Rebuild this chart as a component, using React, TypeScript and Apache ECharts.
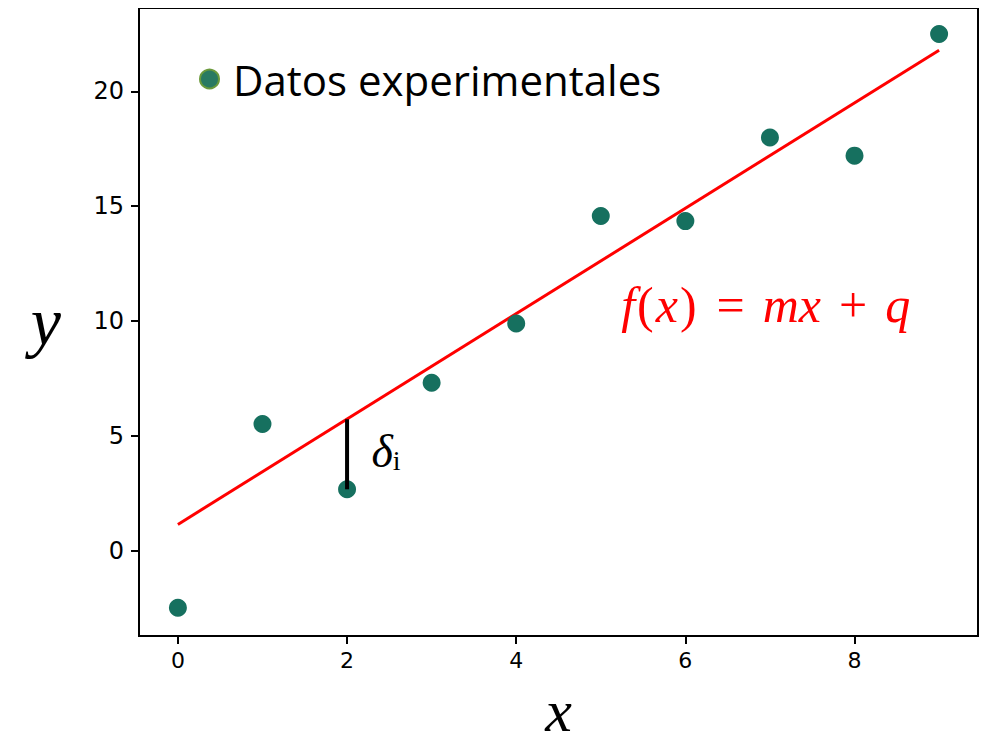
import React, { useEffect, useRef } from "react";
import * as echarts from "echarts";

const xValues = [0, 1, 2, 3, 4, 5, 6, 7, 8, 9];
const yValues = [-2.49, 5.51, 2.67, 7.31, 9.89, 14.57, 14.35, 17.99, 17.2, 22.5];
const fitLine = [[0, 1.14], [9, 21.79]];
const deltaSegment = [[2, 5.72], [2, 2.67]];
const xTicks = [0, 2, 4, 6, 8];
const yTicks = [0, 5, 10, 15, 20];
const legendName = "Datos experimentales";

export default function App() {
  const ref = useRef<HTMLDivElement>(null);
  useEffect(() => {
    const chart = echarts.init(ref.current!, null, { renderer: "svg" });
    const mathFont = "'Liberation Serif', 'DejaVu Serif', serif";
    chart.setOption({
      animation: false,
      backgroundColor: "#ffffff",
      grid: {
        left: 139,
        top: 8,
        right: 9,
        bottom: 109,
        outerBoundsMode: "none",
        containLabel: false,
        show: true,
        borderColor: "#000",
        borderWidth: 2,
        backgroundColor: "transparent",
      },
      legend: {
        show: true,
        left: 194,
        top: 53,
        icon: "circle",
        itemWidth: 19,
        itemHeight: 19,
        data: [
          {
            name: legendName,
            itemStyle: { color: "#2a7a62", borderColor: "#6b9a3c", borderWidth: 2 },
          },
        ],
        textStyle: { fontSize: 42, color: "#000", fontFamily: "'Open Sans', sans-serif", padding: [0, 0, 0, 9] },
      },
      xAxis: {
        type: "value",
        min: -0.46,
        max: 9.46,
        name: "x",
        nameLocation: "middle",
        nameGap: 55,
        nameTextStyle: { fontSize: 60, lineHeight: 40, fontStyle: "italic", fontFamily: mathFont, color: "#000" },
        splitLine: { show: false },
        axisLine: { show: true, onZero: false, lineStyle: { color: "#000", width: 2 } },
        axisTick: { show: true, length: 8, customValues: xTicks, lineStyle: { color: "#000", width: 2 } },
        axisLabel: { customValues: xTicks, fontSize: 22, color: "#000", margin: 13, fontFamily: "'DejaVu Sans', sans-serif" },
      },
      yAxis: {
        type: "value",
        min: -3.72,
        max: 23.63,
        name: "y",
        nameLocation: "middle",
        nameRotate: 0,
        nameGap: 78,
        nameTextStyle: { fontSize: 68, fontStyle: "italic", fontFamily: mathFont, color: "#000", padding: [0, 0, 6, 0] },
        splitLine: { show: false },
        axisLine: { show: true, onZero: false, lineStyle: { color: "#000", width: 2 } },
        axisTick: { show: true, length: 8, customValues: yTicks, lineStyle: { color: "#000", width: 2 } },
        axisLabel: { customValues: yTicks, fontSize: 24, color: "#000", margin: 15, fontFamily: "'DejaVu Sans', sans-serif" },
      },
      series: [
        {
          type: "line",
          name: "fit",
          data: fitLine,
          symbol: "none",
          lineStyle: { color: "#ff0000", width: 3 },
          z: 2,
        },
        {
          type: "scatter",
          name: legendName,
          data: xValues.map((x, i) => [x, yValues[i]]),
          symbolSize: 18,
          itemStyle: { color: "#16705f", opacity: 1 },
          z: 3,
        },
        {
          type: "line",
          name: "delta",
          data: deltaSegment,
          symbol: "none",
          lineStyle: { color: "#000", width: 4 },
          z: 4,
          markPoint: {
            symbol: "circle",
            symbolSize: 0,
            data: [
              {
                coord: [2.46, 4.3],
                label: {
                  show: true,
                  formatter: "{d|δ}{i|i}",
                  rich: {
                    d: { fontSize: 46, fontStyle: "italic", fontFamily: mathFont, color: "#000" },
                    i: { fontSize: 28, fontFamily: mathFont, color: "#000", verticalAlign: "bottom", padding: [16, 0, 0, 0] },
                  },
                },
              },
              {
                coord: [6.95, 10.7],
                label: {
                  show: true,
                  formatter: "{it|f}{n|(}{it|x}{n|)}{op|=}{it|mx}{op|+}{it|q}",
                  rich: {
                    it: { fontSize: 50, fontStyle: "italic", fontFamily: mathFont, color: "#ff0000" },
                    n: { fontSize: 50, fontFamily: mathFont, color: "#ff0000", padding: [0, 2, 0, 2] },
                    op: { fontSize: 50, fontFamily: mathFont, color: "#ff0000", padding: [0, 18, 0, 18] },
                  },
                },
              },
            ],
          },
        },
      ],
    });
    return () => chart.dispose();
  }, []);
  return <div ref={ref} style={{ width: 987, height: 745, margin: -8 }} />;
}
